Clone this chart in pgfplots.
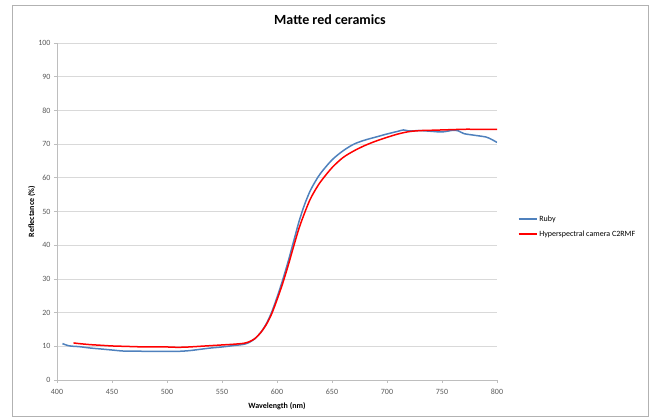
\documentclass[border=0pt]{standalone}
\usepackage{pgfplots}
\pgfplotsset{compat=1.18}
\usepackage{fontspec}
\setmainfont{Carlito}
\definecolor{rubyblue}{HTML}{4F81BD}
\definecolor{gridgray}{HTML}{D9D9D9}
\definecolor{tickgray}{HTML}{595959}
\begin{document}
\begin{tikzpicture}[x=1pt,y=1pt]
\useasboundingbox (-57,-37) rectangle (594,380);
\draw[color=gray!60, line width=0.8pt] (-45,-36) rectangle (591,375);
\node[font=\bfseries\fontsize{14}{16}\selectfont, anchor=center] at (273,360) {Matte red ceramics};
\begin{axis}[
  at={(0,0)}, anchor=origin,
  scale only axis, width=440pt, height=337pt,
  xmin=400, xmax=800, ymin=0, ymax=100,
  xtick={400,450,...,800}, ytick={0,10,...,100},
  ymajorgrids, major grid style={gridgray, line width=0.7pt},
  axis x line*=bottom, axis y line*=left,
  axis line style={gridgray!70!gray, line width=0.7pt},
  tick style={gridgray!70!gray, line width=0.7pt},
  tick align=outside, major tick length=3pt,
  ticklabel style={font=\fontsize{8}{9}\selectfont, text=tickgray},
  xticklabel style={yshift=-3pt},
  /pgf/number format/assume math mode=true,
  xlabel={Wavelength (nm)}, ylabel={Reflectance (\%)},
  label style={font=\bfseries\fontsize{8}{9}\selectfont},
  xlabel style={yshift=-1pt},
  ylabel style={yshift=-4pt},
  legend style={at={(1.04,0.455)}, anchor=west, draw=none, fill=none,
    font=\fontsize{8}{9}\selectfont, row sep=4pt},
  legend cell align=left,
  legend image code/.code={\draw[#1, line width=1.5pt] (0pt,0pt) -- (18pt,0pt);},
]
\addplot[rubyblue, line width=1.5pt, smooth] coordinates {
(405,10.8) (410,10.2) (415,10.0) (420,9.9) (430,9.5) (440,9.2) (450,8.9) (460,8.6) (470,8.6) (480,8.5) (490,8.5) (500,8.5) (510,8.5) (520,8.7) (530,9.1) (540,9.5) (550,9.8) (560,10.2) (570,10.6) (575,11.2) (580,12.3) (585,14.0) (590,16.5) (595,20) (600,24.5) (605,29.5) (610,35) (615,41) (620,47) (625,52) (630,56) (635,59) (640,61.5) (650,65.3) (660,68) (670,70) (680,71.2) (690,72.1) (700,73) (710,73.8) (715,74.2) (720,73.9) (730,74) (740,73.8) (750,73.6) (760,74.1) (765,73.9) (770,73.1) (780,72.6) (790,72.1) (795,71.4) (800,70.5)
};
\addlegendentry{Ruby}
\addplot[red, line width=1.5pt, smooth] coordinates {
(415,11) (420,10.8) (430,10.5) (440,10.3) (450,10.1) (460,10) (470,9.9) (480,9.8) (490,9.8) (500,9.8) (510,9.7) (520,9.8) (530,10) (540,10.2) (550,10.4) (560,10.6) (570,10.9) (575,11.4) (580,12.3) (585,14) (590,16.3) (595,19.5) (600,23.8) (605,28.5) (610,33.8) (615,39.5) (620,45) (625,49.5) (630,53.5) (635,56.5) (640,59) (650,63) (660,66) (670,68) (680,69.6) (690,70.9) (700,72) (710,73) (720,73.7) (730,74) (740,74.1) (750,74.2) (760,74.3) (770,74.4) (780,74.4) (790,74.4) (800,74.4)
};
\addlegendentry{Hyperspectral camera C2RMF}
\end{axis}
\end{tikzpicture}
\end{document}
